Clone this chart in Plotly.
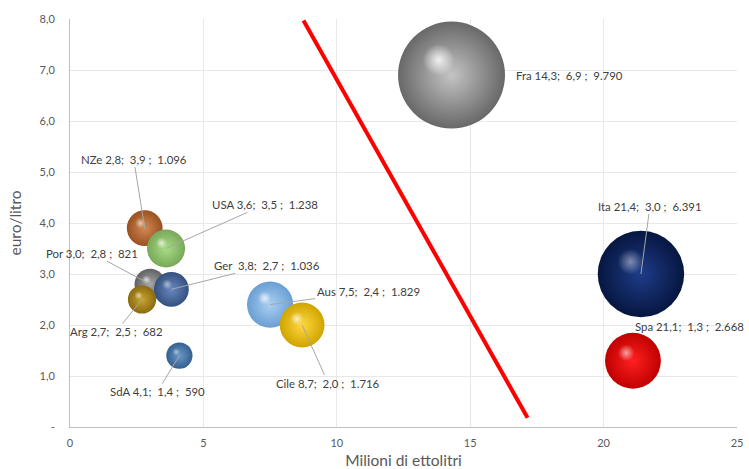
import plotly.graph_objects as go
import math

countries = ["Fra", "Ita", "Spa", "NZe", "USA", "Por", "Ger", "Arg", "Aus", "Cile", "SdA"]
volume = [14.3, 21.4, 21.1, 2.8, 3.6, 3.0, 3.8, 2.7, 7.5, 8.7, 4.1]      # Milioni di ettolitri
price = [6.9, 3.0, 1.3, 3.9, 3.5, 2.8, 2.7, 2.5, 2.4, 2.0, 1.4]          # euro/litro
value = [9790, 6391, 2668, 1096, 1238, 821, 1036, 682, 1829, 1716, 590]  # bubble size
labels = ["Fra 14,3;  6,9 ;  9.790", "Ita 21,4;  3,0 ;  6.391", "Spa 21,1;  1,3 ;  2.668",
          "NZe 2,8;  3,9 ;  1.096", "USA 3,6;  3,5 ;  1.238", "Por 3,0;  2,8 ;  821",
          "Ger  3,8;  2,7 ;  1.036", "Arg 2,7;  2,5 ;  682", "Aus 7,5;  2,4 ;  1.829",
          "Cile 8,7;  2,0 ;  1.716", "SdA 4,1;  1,4 ;  590"]
y_ticks = [0, 1, 2, 3, 4, 5, 6, 7, 8]
y_ticktext = ["-", "1,0", "2,0", "3,0", "4,0", "5,0", "6,0", "7,0", "8,0"]
x_ticks = [0, 5, 10, 15, 20, 25]
divider_x = [8.75, 17.15]
divider_y = [7.97, 0.18]

# (edge colour, centre colour, highlight opacity)
colors = {"Fra": ("#686868", "#c4c4c4", 0.85), "Ita": ("#061640", "#1e3c88", 0.45),
          "Spa": ("#c00000", "#ff2020", 0.6), "NZe": ("#9a5020", "#d08a58", 0.6),
          "USA": ("#78a858", "#aadc88", 0.7), "Por": ("#606060", "#a8a8a8", 0.7),
          "Ger": ("#34507e", "#6a88c0", 0.5), "Arg": ("#8a6a10", "#c8a430", 0.6),
          "Aus": ("#6a9ed4", "#aad0f2", 0.75), "Cile": ("#d0a400", "#ffd840", 0.7),
          "SdA": ("#34608e", "#6a98c8", 0.5)}

max_d = 107
sizeref = 2.0 * max(value) / (max_d ** 2)

# pixel scale of the plot area (used only for placing highlights)
L, R, T, B = 70, 12, 19, 42
W, H = 749, 469
px_x = (W - L - R) / 25.0
px_y = (H - T - B) / 8.0

fig = go.Figure()

fig.add_trace(go.Scatter(x=divider_x, y=divider_y, mode="lines",
                         line=dict(color="#ff0000", width=4), hoverinfo="skip"))

for i, c in enumerate(countries):
    edge, cen, hl = colors[c]
    fig.add_trace(go.Scatter(
        x=[volume[i]], y=[price[i]], mode="markers",
        marker=dict(size=[value[i]], sizemode="area", sizeref=sizeref, opacity=1,
                    color=edge, line=dict(width=0),
                    gradient=dict(type="radial", color=cen)),
        hoverinfo="skip"))
    d = math.sqrt(value[i] / sizeref)
    fig.add_trace(go.Scatter(
        x=[volume[i] - 0.17 * d / px_x], y=[price[i] + 0.2 * d / px_y], mode="markers",
        marker=dict(size=d * 0.42, color="rgba(255,255,255,0)", line=dict(width=0),
                    opacity=1,
                    gradient=dict(type="radial", color=f"rgba(255,255,255,{hl})")),
        hoverinfo="skip"))

offsets = {"Fra": None, "Spa": None,
           "Ita": (9, -68), "NZe": (-11, -69), "USA": (99, -44), "Por": (-58, -31),
           "Ger": (96, -24), "Arg": (-26, 32), "Aus": (98, -13), "Cile": (26, 58),
           "SdA": (-22, 36)}
lab_font = dict(family="Lato, Open Sans, sans-serif", size=11.4, color="#404040")
for i, c in enumerate(countries):
    txt = labels[i].replace("  ", "\u00a0 ")
    off = offsets[c]
    if c == "Fra":
        fig.add_annotation(x=volume[i], y=price[i], text=txt, showarrow=False,
                           xanchor="left", xshift=62, font=lab_font)
    elif c == "Spa":
        fig.add_annotation(x=volume[i], y=price[i], text=txt, showarrow=False,
                           xanchor="right", xshift=113, yshift=34, font=lab_font)
    else:
        fig.add_annotation(x=volume[i], y=price[i], text=txt, showarrow=True,
                           ax=off[0], ay=off[1], arrowhead=0, arrowwidth=1,
                           arrowcolor="#a6a6a6", font=lab_font)

axis_font = dict(family="Lato, Open Sans, sans-serif", size=11, color="#595959")
title_font = dict(family="Lato, Open Sans, sans-serif", size=15.5, color="#595959")
fig.update_layout(
    width=W, height=H, margin=dict(l=L, r=R, t=T, b=B, autoexpand=False),
    plot_bgcolor="white", paper_bgcolor="white", showlegend=False,
    xaxis=dict(range=[0, 25], tickvals=x_ticks, showgrid=True, gridcolor="#e8e8e8",
               showline=True, linecolor="#bfbfbf", zeroline=False, tickfont=axis_font,
               ticks="", ticklabelstandoff=6, automargin=False,
               title=dict(text="Milioni di ettolitri", standoff=6, font=title_font)),
    yaxis=dict(range=[0, 8], tickvals=y_ticks, ticktext=y_ticktext, showgrid=True,
               gridcolor="#e8e8e8", showline=True, linecolor="#bfbfbf", zeroline=False,
               tickfont=axis_font, ticks="", ticklabelstandoff=12, automargin=False,
               title=dict(text="euro/litro", standoff=14, font=title_font)),
)

fig.write_html("out.html")
